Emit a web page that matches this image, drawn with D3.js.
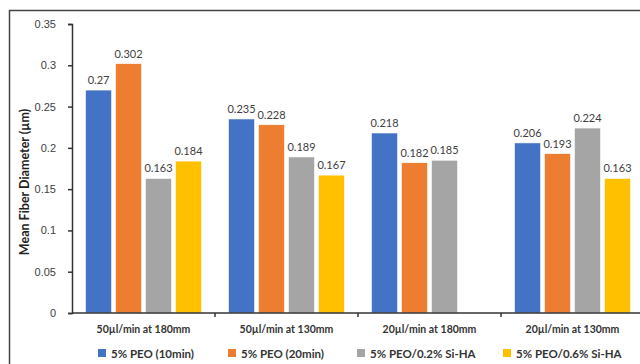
<!DOCTYPE html>
<html>
<head>
<meta charset="utf-8">
<script src="https://cdn.jsdelivr.net/npm/d3@7"></script>
<style>
  body { margin: 0; background: #fff; }
  svg { display: block; font-family: Lato, "Noto Sans", sans-serif; }
  .yaxis text { font-size: 11px; fill: #404040; }
  .axis path, .axis line { stroke: #333; stroke-width: 1.5; }
</style>
</head>
<body>
<svg id="chart" width="640" height="364"></svg>
<script>
const categories = ["50µl/min at 180mm", "50µl/min at 130mm", "20µl/min at 180mm", "20µl/min at 130mm"];
const seriesNames = ["5% PEO (10min)", "5% PEO (20min)", "5% PEO/0.2% Si-HA", "5% PEO/0.6% Si-HA"];
const peo10 = [0.27, 0.235, 0.218, 0.206];
const peo20 = [0.302, 0.228, 0.182, 0.193];
const siha02 = [0.163, 0.189, 0.185, 0.224];
const siha06 = [0.184, 0.167, null, 0.163];
const yTicks = [0, 0.05, 0.1, 0.15, 0.2, 0.25, 0.3, 0.35];
const colors = ["#4472C4", "#ED7D31", "#A5A5A5", "#FFC000"];

const seriesValues = [peo10, peo20, siha02, siha06];

const margin = {top: 24, left: 72, bottom: 51};
const svg = d3.select("#chart");

// outer frame (runs off the right and bottom edge)
svg.append("rect")
  .attr("x", 9.5).attr("y", 10.5)
  .attr("width", 700).attr("height", 400)
  .attr("fill", "none").attr("stroke", "#444").attr("stroke-width", 1.5);

const yScale = d3.scaleLinear()
  .domain([0, 0.35])
  .range([313, margin.top]);

const x0 = d3.scaleBand()
  .domain(categories)
  .range([margin.left, 644])
  .padding(0);

const x1 = d3.scaleBand()
  .domain(seriesNames)
  .range([0, x0.bandwidth()])
  .paddingInner(0.13)
  .paddingOuter(0.45);

const yAxis = d3.axisLeft(yScale)
  .tickValues(yTicks)
  .tickSize(4)
  .tickPadding(12)
  .tickFormat(d => d === 0 ? "0" : String(+d.toFixed(2)));

svg.append("g")
  .attr("class", "axis yaxis")
  .attr("transform", `translate(${margin.left},0)`)
  .call(yAxis)
  .call(g => g.selectAll("text").attr("font-family", null).attr("font-size", null));

const groups = svg.append("g")
  .selectAll("g")
  .data(categories)
  .enter()
  .append("g")
  .attr("transform", d => `translate(${x0(d)},0)`);

const barData = (c, i) => seriesNames.map((s, j) => ({series: s, value: seriesValues[j][i], color: colors[j]}))
  .filter(d => d.value !== null);

groups.selectAll("rect")
  .data((c, i) => barData(c, i))
  .enter()
  .append("rect")
  .attr("x", d => x1(d.series))
  .attr("y", d => yScale(d.value))
  .attr("width", x1.bandwidth())
  .attr("height", d => yScale(0) - yScale(d.value))
  .attr("fill", d => d.color)
  .attr("stroke", "#fff")
  .attr("stroke-width", 0.6);

groups.selectAll("text.val")
  .data((c, i) => barData(c, i))
  .enter()
  .append("text")
  .attr("class", "val")
  .attr("x", d => x1(d.series) + x1.bandwidth() / 2)
  .attr("y", d => yScale(d.value) - 6)
  .attr("text-anchor", "middle")
  .attr("font-size", 11)
  .attr("fill", "#404040")
  .text(d => d.value);

// x axis with ticks between categories
const xAxis = d3.axisBottom(x0).tickSize(0).tickFormat("");
svg.append("g")
  .attr("class", "axis xaxis")
  .attr("transform", `translate(0,313)`)
  .call(xAxis)
  .call(g => g.select(".domain").attr("d", `M${margin.left},0H644`));

svg.append("g")
  .selectAll("line")
  .data(categories.slice(1).concat(["end"]))
  .enter()
  .append("line")
  .attr("x1", (d, i) => x0.range()[0] + x0.step() * (i + 1))
  .attr("x2", (d, i) => x0.range()[0] + x0.step() * (i + 1))
  .attr("y1", 313).attr("y2", 317)
  .attr("stroke", "#333").attr("stroke-width", 1.5);

svg.append("g")
  .selectAll("text")
  .data(categories)
  .enter()
  .append("text")
  .attr("x", d => x0(d) + x0.bandwidth() / 2)
  .attr("y", 333)
  .attr("text-anchor", "middle")
  .attr("font-size", 10.5)
  .attr("font-weight", "bold")
  .attr("fill", "#333")
  .text(d => d);

// y title
svg.append("text")
  .attr("transform", `translate(29,182) rotate(-90)`)
  .attr("text-anchor", "middle")
  .attr("font-size", 12.5)
  .attr("font-weight", "bold")
  .attr("fill", "#222")
  .text("Mean Fiber Diameter (µm)");

// legend
const legendX = [98, 228, 357, 503];
const legend = svg.append("g")
  .selectAll("g")
  .data(seriesNames)
  .enter()
  .append("g")
  .attr("transform", (d, i) => `translate(${legendX[i]},349)`);

legend.append("rect")
  .attr("width", 8).attr("height", 8)
  .attr("fill", (d, i) => colors[i]);

legend.append("text")
  .attr("x", 13)
  .attr("y", 8.5)
  .attr("font-size", 11.5)
  .attr("font-weight", "bold")
  .attr("fill", "#333")
  .text(d => d);
</script>
</body>
</html>
